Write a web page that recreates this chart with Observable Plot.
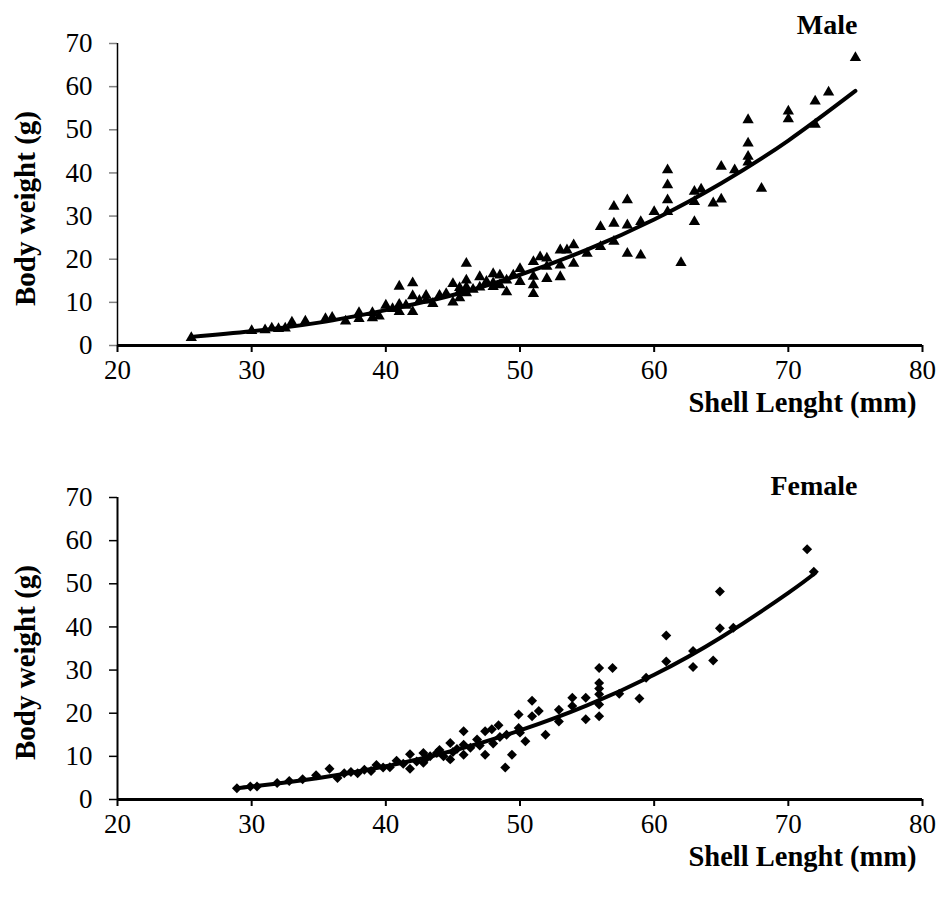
<!DOCTYPE html>
<html>
<head>
<meta charset="utf-8">
<script src="https://cdn.jsdelivr.net/npm/d3@7"></script>
<script src="https://cdn.jsdelivr.net/npm/@observablehq/plot@0.6"></script>
<style>
  html, body { margin: 0; padding: 0; background: #fff; }
  #wrap { position: relative; width: 943px; height: 897px; }
  #top, #bottom { position: absolute; left: 0; }
  #top { top: 0; }
  #bottom { top: 454px; }
</style>
</head>
<body>
<div id="wrap"><div id="top"></div><div id="bottom"></div></div>
<script>
// ---- Data ----
const xTicks = [20, 30, 40, 50, 60, 70, 80];
const yTicks = [0, 10, 20, 30, 40, 50, 60, 70];
const xTitle = "Shell Lenght (mm)";
const yTitle = "Body weight (g)";
const panelTitles = ["Male", "Female"];

const maleLength = [25.5,30,31,31.5,32,32.5,33,34,35.5,36,37,38,38,39,39,39.5,40,40.5,41,41,41,41.5,42,42,42,42.5,43,43,43.5,44,44.5,45,45,45.5,45.5,45.5,46,46,46,46,46.5,47,47,47.5,48,48,48,48.5,48.5,49,49,49.5,50,50,51,51,51,51,51.5,52,52,52,53,53,53,53.5,54,54,55,56,56,57,57,57,58,58,58,59,59,60,61,61,61,61,62,63,63,63,63.5,64.4,65,65,66,67,67,67,67,68,70,70,72,72,73,75];
const maleWeight = [1.8,3.4,3.6,4.0,3.9,4.0,5.4,5.6,6.2,6.5,5.6,7.6,6.2,7.6,6.4,6.8,9.3,8.5,13.7,9.5,7.8,9.3,14.5,11.5,7.8,10.4,11.6,10.5,9.7,11.6,12.0,14.3,10.0,13.4,12.5,11.0,19.0,15.1,13.5,12.2,13.0,15.9,13.5,14.8,16.6,14.5,13.6,16.3,14.0,15.1,12.4,16.3,17.8,14.8,19.4,16.0,14.0,12.0,20.5,20.2,18.3,15.5,22.1,18.6,15.9,22.1,23.3,19.0,21.3,27.5,22.9,32.2,28.3,24.1,33.7,27.9,21.3,28.7,20.9,31.0,40.7,37.2,33.7,31.0,19.2,35.7,33.3,28.7,36.2,33.0,41.5,33.9,40.7,52.3,46.9,43.8,42.5,36.4,54.3,52.5,56.6,51.2,58.7,66.7];

const femaleLength = [28.9,29.9,30.4,31.9,32.8,33.8,34.8,35.8,36.4,36.9,37.4,37.9,38.4,38.9,39.3,39.8,40.3,40.8,41.3,41.8,41.8,42.3,42.8,42.8,43,43.3,43.8,44,44.3,44.8,44.8,45,45.3,45.8,45.8,45.8,46.3,46.8,47,47.4,47.4,47.9,48,48.4,48.5,48.9,49,49.4,49.9,49.9,50,50.4,50.9,50.9,51.4,51.9,52.9,52.9,53.9,53.9,54.9,54.9,55.9,55.9,55.9,55.9,55.9,55.9,56.9,57.4,58.9,59.4,60.9,60.9,62.9,62.9,64.4,64.9,64.9,65.9,71.4,71.9];
const femaleWeight = [2.6,3.0,3.0,3.8,4.3,4.7,5.6,7.1,5.0,6.1,6.4,6.1,6.9,6.6,8.0,7.4,7.5,9.0,8.3,10.5,7.1,8.8,10.8,8.5,9.5,10.0,10.8,11.5,10.0,13.1,9.3,11.0,11.7,15.8,12.7,10.4,12.0,13.9,12.5,15.8,10.4,16.3,13.0,17.2,14.5,7.4,15.0,10.4,19.7,16.6,15.5,13.5,22.9,19.3,20.5,15.0,20.8,18.1,23.6,21.7,23.6,18.6,30.5,27.0,25.7,24.4,22.0,19.3,30.5,24.5,23.4,28.2,38.0,32.0,34.4,30.7,32.2,48.2,39.7,39.8,58.0,52.8];

// fitted trend curves
const maleCurveX = [25.5, 30, 35, 40, 45, 50, 55, 60, 65, 70, 75];
const maleCurveY = [2.0, 3.3, 5.3, 8.2, 11.7, 16.4, 22.2, 29.2, 37.6, 47.5, 59.0];
const femaleCurveX = [29, 30, 35, 40, 45, 50, 55, 60, 65, 70, 72];
const femaleCurveY = [2.7, 3.0, 5.0, 7.7, 11.3, 16.0, 21.8, 28.9, 37.6, 47.9, 52.5];

const zip = (xs, ys) => xs.map((x, i) => ({x, y: ys[i]}));
const FONT = "'Liberation Serif', 'Times New Roman', serif";

function panel({points, curve, symbol, r, title, titleDy, yTickColor, yAxisWidth}) {
  return Plot.plot({
    width: 943,
    height: 450,
    marginLeft: 117,
    marginRight: 21,
    marginTop: 43,
    marginBottom: 105,
    style: {fontFamily: FONT, fontSize: "27px", color: "#000", background: "#fff"},
    x: {domain: [20, 80]},
    y: {domain: [0, 70]},
    marks: [
      Plot.axisY({ticks: yTicks, tickSize: 8, tickPadding: 17, stroke: yTickColor, strokeWidth: 1.5, fill: "#000", fontSize: 27, label: null}),
      Plot.axisX({ticks: xTicks, tickSize: 7, tickPadding: 7, strokeWidth: 2, fill: "#000", fontSize: 27, label: null}),
      Plot.ruleX([20], {stroke: "#000", strokeWidth: yAxisWidth}),
      Plot.ruleY([0], {stroke: "#000", strokeWidth: 3}),
      Plot.dot(points, {x: "x", y: "y", symbol, r, fill: "#000", stroke: "none"}),
      Plot.line(curve, {x: "x", y: "y", curve: "natural", stroke: "#000", strokeWidth: 4, strokeLinecap: "round"}),
      Plot.text([xTitle], {text: d => d, frameAnchor: "bottom-right", textAnchor: "end", lineAnchor: "middle", dx: -6, dy: 57, fontWeight: "bold", fontSize: 28.5}),
      Plot.text([yTitle], {text: d => d, frameAnchor: "left", rotate: -90, textAnchor: "middle", lineAnchor: "middle", dx: -92, dy: 14, fontWeight: "bold", fontSize: 29}),
      Plot.text([title], {text: d => d, frameAnchor: "top-right", textAnchor: "end", lineAnchor: "middle", dx: -65, dy: titleDy, fontWeight: "bold", fontSize: 28})
    ]
  });
}

document.getElementById("top").append(panel({
  points: zip(maleLength, maleWeight),
  curve: zip(maleCurveX, maleCurveY),
  symbol: "triangle", r: 4.2,
  title: panelTitles[0], titleDy: -18,
  yTickColor: "#808080", yAxisWidth: 1.5
}));
document.getElementById("bottom").append(panel({
  points: zip(femaleLength, femaleWeight),
  curve: zip(femaleCurveX, femaleCurveY),
  symbol: "diamond2", r: 4.5,
  title: panelTitles[1], titleDy: -11,
  yTickColor: "#000", yAxisWidth: 2
}));
</script>
</body>
</html>
